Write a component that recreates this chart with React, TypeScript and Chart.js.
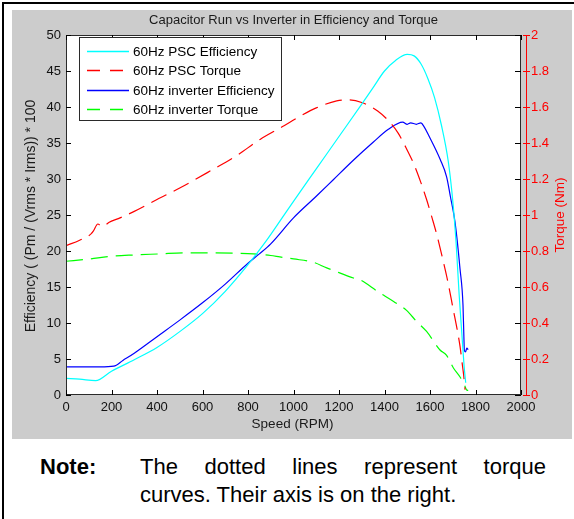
import React, { useEffect, useRef } from "react";
import { Chart, registerables } from "chart.js";

Chart.register(...registerables);

const FONT = "'Liberation Sans', Arial, sans-serif";

const TITLE = "Capacitor Run vs Inverter in Efficiency and Torque";
const X_LABEL = "Speed (RPM)";
const Y_LABEL = "Efficiency ( (Pm / (Vrms * Irms)) * 100";
const Y1_LABEL = "Torque (Nm)";
const SERIES_NAMES = [
  "60Hz PSC Efficiency",
  "60Hz PSC Torque",
  "60Hz inverter Efficiency",
  "60Hz inverter Torque",
];

// 60Hz PSC efficiency (%)
const pscEffSpeed = [0, 60, 130, 200, 300, 400, 500, 600, 700, 800, 880, 950, 1000, 1100, 1200, 1300, 1350, 1400, 1450, 1500, 1530, 1560, 1590, 1620, 1650, 1680, 1700, 1715, 1728, 1740, 1750, 1757];
const pscEff = [2.3, 2.2, 2.0, 3.3, 4.9, 6.6, 8.8, 11.3, 14.4, 18.1, 21.4, 24.6, 26.9, 31.4, 35.9, 40.4, 42.7, 45.0, 46.5, 47.3, 47.1, 46.0, 44.0, 41.3, 37.5, 32.5, 27.0, 21.0, 14.0, 8.5, 4.0, 1.7];

// 60Hz PSC torque (Nm)
const pscTorqueSpeed = [0, 60, 110, 120, 140, 160, 190, 230, 300, 400, 500, 633, 750, 853, 950, 1030, 1100, 1190, 1240, 1300, 1370, 1420, 1460, 1500, 1530, 1560, 1585, 1610, 1630, 1655, 1675, 1703, 1720, 1732, 1742, 1748, 1754];
const pscTorque = [0.83, 0.86, 0.895, 0.91, 0.95, 0.935, 0.96, 0.98, 1.02, 1.086, 1.15, 1.244, 1.33, 1.42, 1.49, 1.55, 1.595, 1.634, 1.64, 1.625, 1.578, 1.52, 1.455, 1.36, 1.28, 1.18, 1.086, 0.98, 0.89, 0.76, 0.65, 0.47, 0.36, 0.27, 0.17, 0.11, 0.03];

// 60Hz inverter efficiency (%)
const invEffSpeed = [0, 100, 150, 210, 250, 300, 400, 500, 600, 700, 800, 850, 900, 1000, 1100, 1175, 1263, 1350, 1417, 1480, 1500, 1515, 1540, 1560, 1575, 1595, 1645, 1673, 1690, 1710, 1732, 1745, 1749, 1751, 1756, 1762, 1768];
const invEff = [3.9, 3.9, 3.9, 4.0, 4.8, 5.8, 8.1, 10.4, 12.8, 15.4, 18.3, 19.6, 21.0, 24.6, 27.6, 29.9, 32.6, 35.1, 36.9, 37.9, 37.6, 37.8, 37.6, 37.8, 37.2, 36.0, 32.7, 30.3, 27.5, 24.0, 17.5, 12.5, 8.0, 6.2, 6.0, 6.5, 6.3];

// 60Hz inverter torque (Nm)
const invTorqueSpeed = [0, 100, 193, 300, 413, 520, 633, 750, 824, 900, 940, 1000, 1088, 1146, 1200, 1263, 1292, 1370, 1440, 1497, 1540, 1585, 1644, 1673, 1703, 1732, 1750, 1760, 1768];
const invTorque = [0.743, 0.755, 0.77, 0.778, 0.784, 0.79, 0.79, 0.788, 0.784, 0.775, 0.767, 0.756, 0.737, 0.706, 0.68, 0.65, 0.64, 0.575, 0.52, 0.47, 0.41, 0.353, 0.25, 0.22, 0.15, 0.10, 0.06, 0.03, 0.025];

const X_MIN = 0, X_MAX = 2000, X_STEP = 200;
const Y_MIN = 0, Y_MAX = 50, Y_STEP = 5;
const Y1_MIN = 0, Y1_MAX = 2, Y1_STEP = 0.2;

const COLORS = ["#00ffff", "#ff0000", "#0000ff", "#00ff00"];
const DASH = [17, 8];

const pts = (xs: number[], ys: number[]) => xs.map((x, i) => ({ x, y: ys[i] }));

const decorPlugin = {
  id: "decor",
  beforeDraw(chart: any) {
    const { ctx, chartArea: a } = chart;
    ctx.save();
    ctx.fillStyle = "#ffffff";
    ctx.fillRect(a.left, a.top, a.right - a.left, a.bottom - a.top);
    ctx.restore();
  },
  afterDraw(chart: any) {
    const { ctx, chartArea: a, scales } = chart;
    const xs = scales.x, ys = scales.y, y1 = scales.y1;
    ctx.save();
    // box
    ctx.strokeStyle = "#2a2a2a";
    ctx.lineWidth = 1;
    ctx.setLineDash([]);
    ctx.strokeRect(a.left + 0.5, a.top + 0.5, a.right - a.left - 1, a.bottom - a.top - 1);
    // inward ticks
    ctx.strokeStyle = "#000";
    ctx.beginPath();
    const TL = 5;
    xs.ticks.forEach((t: any) => {
      const px = Math.round(xs.getPixelForValue(t.value)) + 0.5;
      ctx.moveTo(px, a.bottom);
      ctx.lineTo(px, a.bottom - TL);
      ctx.moveTo(px, a.top);
      ctx.lineTo(px, a.top + TL);
    });
    ys.ticks.forEach((t: any) => {
      const py = Math.round(ys.getPixelForValue(t.value)) + 0.5;
      ctx.moveTo(a.left, py);
      ctx.lineTo(a.left + TL, py);
    });
    y1.ticks.forEach((t: any) => {
      const py = Math.round(y1.getPixelForValue(t.value)) + 0.5;
      ctx.moveTo(a.right, py);
      ctx.lineTo(a.right - TL - 1, py);
    });
    ctx.stroke();
    // red right axis
    ctx.strokeStyle = "#ff0000";
    ctx.beginPath();
    const rx = a.right + 5.5;
    ctx.moveTo(rx, a.top);
    ctx.lineTo(rx, a.bottom + 1);
    y1.ticks.forEach((t: any) => {
      const py = Math.round(y1.getPixelForValue(t.value)) + 0.5;
      ctx.moveTo(a.right + 2, py);
      ctx.lineTo(a.right + 9, py);
    });
    ctx.stroke();

    // title
    const cx = (a.left + a.right) / 2;
    ctx.fillStyle = "#1a1a1a";
    ctx.font = `13px ${FONT}`;
    ctx.textAlign = "center";
    ctx.textBaseline = "middle";
    ctx.fillText(TITLE, cx, 10.5);
    // x label
    ctx.font = `13.5px ${FONT}`;
    ctx.textBaseline = "alphabetic";
    ctx.fillText(X_LABEL, cx - 1, 418);
    // y label
    const cy = (a.top + a.bottom) / 2;
    ctx.save();
    ctx.translate(23, cy + 1);
    ctx.rotate(-Math.PI / 2);
    ctx.font = `14px ${FONT}`;
    ctx.fillText(Y_LABEL, 0, 0);
    ctx.restore();
    // y1 label
    ctx.save();
    ctx.translate(551.5, cy);
    ctx.rotate(-Math.PI / 2);
    ctx.fillStyle = "#ff0000";
    ctx.font = `13.5px ${FONT}`;
    ctx.fillText(Y1_LABEL, 0, 0);
    ctx.restore();

    // legend
    const lx = 67.5, ly = 27.5, lw = 202, lh = 83;
    ctx.fillStyle = "#ffffff";
    ctx.fillRect(lx, ly, lw, lh);
    ctx.strokeStyle = "#2a2a2a";
    ctx.lineWidth = 1;
    ctx.strokeRect(lx, ly, lw, lh);
    ctx.font = `13.5px ${FONT}`;
    ctx.textAlign = "left";
    ctx.textBaseline = "middle";
    chart.data.datasets.forEach((ds: any, i: number) => {
      const yy = Math.round(40.5 + i * 19.5) + 0.5;
      ctx.strokeStyle = ds.borderColor;
      ctx.lineWidth = 1.5;
      ctx.setLineDash(ds.borderDash && ds.borderDash.length ? [13, 10] : []);
      ctx.beginPath();
      ctx.moveTo(75, yy);
      ctx.lineTo(117, yy);
      ctx.stroke();
      ctx.setLineDash([]);
      ctx.fillStyle = "#000";
      ctx.fillText(ds.label, 121, yy + 0.5);
    });
    ctx.restore();
  },
};

function ChartPanel() {
  const ref = useRef<HTMLCanvasElement | null>(null);
  useEffect(() => {
    if (!ref.current) return;
    const tickFont = { family: FONT, size: 13 };
    const mk = (label: string, data: any, color: string, axis: string, dashed: boolean) => ({
      label,
      data,
      borderColor: color,
      backgroundColor: color,
      borderWidth: 1.2,
      borderDash: dashed ? DASH : [],
      pointRadius: 0,
      fill: false,
      tension: 0,
      cubicInterpolationMode: "monotone" as const,
      yAxisID: axis,
    });
    const chart = new Chart(ref.current, {
      type: "line",
      data: {
        datasets: [
          mk(SERIES_NAMES[0], pts(pscEffSpeed, pscEff), COLORS[0], "y", false),
          mk(SERIES_NAMES[1], pts(pscTorqueSpeed, pscTorque), COLORS[1], "y1", true),
          mk(SERIES_NAMES[2], pts(invEffSpeed, invEff), COLORS[2], "y", false),
          mk(SERIES_NAMES[3], pts(invTorqueSpeed, invTorque), COLORS[3], "y1", true),
        ],
      },
      options: {
        animation: false,
        responsive: false,
        devicePixelRatio: 1,
        layout: { padding: { top: 25, left: 0, right: 0, bottom: 0 } },
        plugins: { legend: { display: false }, title: { display: false }, tooltip: { enabled: false } },
        scales: {
          x: {
            type: "linear",
            min: X_MIN,
            max: X_MAX,
            ticks: {
              stepSize: X_STEP,
              color: "#111",
              font: tickFont,
              padding: 5,
              maxRotation: 0,
              autoSkip: false,
              callback: (v: any) => String(Math.round(Number(v))),
            },
            grid: { display: false, drawTicks: false },
            border: { display: false },
            afterFit: (s: any) => { s.height = 44; },
          },
          y: {
            type: "linear",
            position: "left",
            min: Y_MIN,
            max: Y_MAX,
            ticks: { stepSize: Y_STEP, color: "#111", font: tickFont, padding: 5, autoSkip: false },
            grid: { display: false, drawTicks: false },
            border: { display: false },
            afterFit: (s: any) => { s.width = 54; },
          },
          y1: {
            type: "linear",
            position: "right",
            min: Y1_MIN,
            max: Y1_MAX,
            ticks: {
              stepSize: Y1_STEP,
              color: "#ff0000",
              font: tickFont,
              padding: 10,
              autoSkip: false,
              callback: (v: any) => String(Math.round(Number(v) * 10) / 10),
            },
            grid: { display: false, drawTicks: false },
            border: { display: false },
            afterFit: (s: any) => { s.width = 51; },
          },
        },
      } as any,
      plugins: [decorPlugin],
    });
    return () => chart.destroy();
  }, []);
  return <canvas ref={ref} width={560} height={429} style={{ display: "block", width: 560, height: 429 }} />;
}

export default function App() {
  return (
    <div style={{ position: "fixed", left: 0, top: 0, width: 574, height: 519, background: "#fff", overflow: "hidden", fontFamily: FONT }}>
      <div style={{ position: "absolute", left: 2, top: 2, width: 572, height: 517, borderLeft: "2px solid #000", borderTop: "2px solid #000", boxSizing: "border-box" }} />
      <div style={{ position: "absolute", left: 12, top: 10, width: 560, height: 429, background: "#cccccc" }}>
        <ChartPanel />
      </div>
      <div style={{ position: "absolute", left: 40, top: 453, fontSize: 22, lineHeight: "28px", fontWeight: "bold", color: "#000" }}>Note:</div>
      <div style={{ position: "absolute", left: 140, top: 453, width: 406, fontSize: 22, lineHeight: "28px", color: "#000" }}>
        <div style={{ display: "flex", justifyContent: "space-between", whiteSpace: "nowrap" }}>
          <span>The</span><span>dotted</span><span>lines</span><span>represent</span><span>torque</span>
        </div>
        <div>curves. Their axis is on the right.</div>
      </div>
    </div>
  );
}
